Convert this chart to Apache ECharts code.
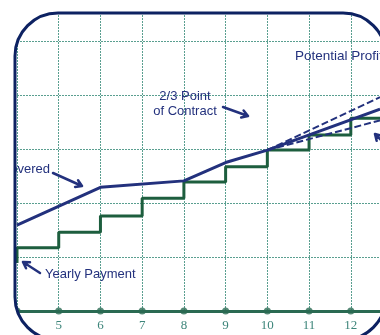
<!DOCTYPE html>
<html>
<head>
<meta charset="utf-8">
<script src="https://cdn.jsdelivr.net/npm/echarts@6/dist/echarts.min.js"></script>
<style>
  html, body { margin: 0; padding: 0; background: #fff; }
  #chart { width: 380px; height: 335px; }
</style>
</head>
<body>
<div id="chart"></div>
<script>
// 年份刻度
const years = [4, 5, 6, 7, 8, 9, 10, 11, 12];
// 逐年付款 (阶梯)
const paymentX = [4, 4, 5, 6, 7, 8, 9, 10, 11, 12, 12.7];
const paymentY = [8.9, 11.7, 14.6, 17.6, 20.9, 23.9, 26.7, 29.8, 32.6, 35.7, 35.7];
// 成本回收线
const costX = [4, 6, 8, 9, 10, 12.7];
const costY = [15.9, 22.9, 24.1, 27.5, 29.8, 37.4];
// 潜在利润 虚线
const upperX = [10, 12.7];
const upperY = [29.8, 39.6];
const lowerX = [10, 12.7];
const lowerY = [29.8, 35.3];

const NAVY = "#23317d";
const GREEN = "#1d5e3e";

const zip = (xs, ys) => xs.map((x, i) => [x, ys[i]]);

// 箭头 (线 + 箭头头部)
function arrow(x1, y1, x2, y2) {
  const a = Math.atan2(y2 - y1, x2 - x1);
  const h = 7, s = 0.55;
  return {
    type: "polyline",
    z: 50,
    shape: {
      points: [
        [x2 - h * Math.cos(a - s), y2 - h * Math.sin(a - s)],
        [x2, y2],
        [x2 - h * Math.cos(a + s), y2 - h * Math.sin(a + s)],
        [x2, y2],
        [x1, y1]
      ]
    },
    style: { stroke: NAVY, lineWidth: 2.5, fill: null, lineJoin: "round", lineCap: "round" }
  };
}

function label(text, x, y, align, size) {
  return {
    type: "text",
    z: 50,
    x: x,
    y: y,
    style: {
      text: text,
      fill: NAVY,
      font: (size || 13) + "px 'Liberation Sans', Arial, sans-serif",
      textAlign: align || "left",
      textVerticalAlign: "middle"
    }
  };
}

// 圆角弧上的点
function arcPts(cx, cy, r, a0, a1) {
  const pts = [];
  for (let i = 0; i <= 16; i++) {
    const a = a0 + (a1 - a0) * i / 16;
    pts.push([cx + r * Math.cos(a), cy + r * Math.sin(a)]);
  }
  return pts;
}

const L = 15, T = 13, R = 386, B = 340, RAD = 43;
const PI = Math.PI;
const leftMask = [[-10, -10], [L + RAD, -10]]
  .concat(arcPts(L + RAD, T + RAD, RAD, -PI / 2, -PI))
  .concat(arcPts(L + RAD, B - RAD, RAD, PI, PI / 2))
  .concat([[L + RAD, 360], [-10, 360]]);
const rightMask = [[R - RAD, -10], [400, -10], [400, 360], [R - RAD, 360]]
  .concat(arcPts(R - RAD, B - RAD, RAD, PI / 2, 0))
  .concat(arcPts(R - RAD, T + RAD, RAD, 0, -PI / 2));

let myChart = echarts.init(document.getElementById("chart"));
myChart.setOption({
  animation: false,
  grid: { left: 17, top: 0, width: 365.4, height: 311 },
  xAxis: {
    type: "value",
    min: 4,
    max: 12.7,
    interval: 1,
    axisLine: { lineStyle: { color: "#2a6a52", width: 3 } },
    axisTick: { show: false },
    axisLabel: {
      margin: 8,
      color: "#3d857a",
      fontFamily: "Liberation Serif",
      fontSize: 13,
      showMaxLabel: false,
      formatter: v => (Number.isInteger(v) ? String(v) : "")
    },
    splitLine: { lineStyle: { color: "#5a9f90", width: 1, type: [2, 1] } }
  },
  yAxis: {
    type: "value",
    min: 0,
    max: 57.6,
    interval: 10,
    axisLine: { show: false },
    axisTick: { show: false },
    axisLabel: { show: false },
    splitLine: { lineStyle: { color: "#5a9f90", width: 1, type: [2, 1] } }
  },
  series: [
    {
      type: "line",
      step: "end",
      data: zip(paymentX, paymentY),
      symbol: "none",
      lineStyle: { color: GREEN, width: 3 },
      z: 3
    },
    {
      type: "line",
      data: zip(upperX, upperY),
      symbol: "none",
      lineStyle: { color: NAVY, width: 2, type: [7, 3] },
      z: 4
    },
    {
      type: "line",
      data: zip(lowerX, lowerY),
      symbol: "none",
      lineStyle: { color: NAVY, width: 2, type: [7, 3] },
      z: 4
    },
    {
      type: "line",
      data: zip(costX, costY),
      symbol: "none",
      lineStyle: { color: NAVY, width: 3 },
      z: 5
    },
    {
      type: "scatter",
      data: years.map(x => [x, 0]),
      symbol: "circle",
      symbolSize: 7,
      clip: false,
      itemStyle: { color: "#2a6a52" },
      z: 6
    }
  ],
  graphic: [
    label("Potential Profit", 295, 56, "left", 13.5),
    label("2/3 Point", 185, 96, "center"),
    label("of Contract", 185, 111, "center"),
    label("Cost Recovered", 50, 169, "right"),
    label("Yearly Payment", 45, 274),
    arrow(53, 173, 82, 186),
    arrow(223, 107, 248, 116),
    arrow(40, 273, 23, 262),
    arrow(384, 143, 375, 134),
    // 圆角框外的遮罩
    { type: "polygon", z: 100, shape: { points: leftMask }, style: { fill: "#fff" } },
    { type: "polygon", z: 100, shape: { points: rightMask }, style: { fill: "#fff" } },
    { type: "rect", z: 100, shape: { x: L + RAD - 1, y: -10, width: R - L - 2 * RAD + 2, height: T + 10 }, style: { fill: "#fff" } },
    { type: "rect", z: 100, shape: { x: L + RAD - 1, y: B, width: R - L - 2 * RAD + 2, height: 20 }, style: { fill: "#fff" } },
    {
      type: "rect",
      z: 101,
      shape: { x: L, y: T, width: R - L, height: B - T, r: RAD },
      style: { fill: null, stroke: "#0d2262", lineWidth: 3 }
    }
  ]
});
</script>
</body>
</html>
